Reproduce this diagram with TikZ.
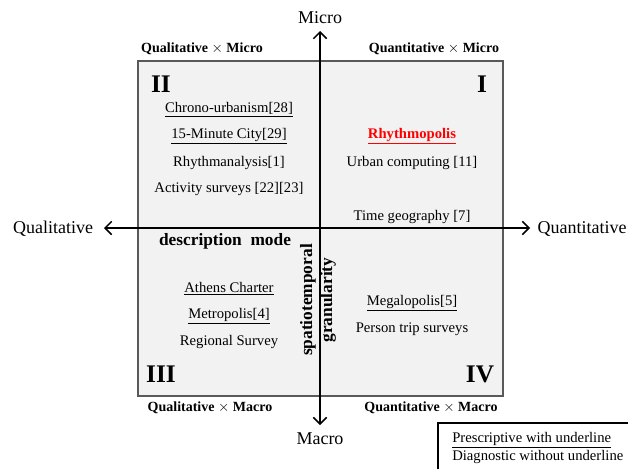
\documentclass[tikz,border=0pt]{standalone}
\usepackage{fontspec}
\setmainfont{Liberation Serif}
\usetikzlibrary{arrows.meta}
\definecolor{boxgray}{HTML}{F2F2F2}
\definecolor{edgegray}{HTML}{595959}

\begin{document}
\begin{tikzpicture}[
        x=0.75pt, y=-0.75pt,
        every node/.style={inner sep=0pt, font=\fontsize{11}{13}\selectfont},
        axis/.style={{Straight Barb[length=5pt,width=10pt]}-{Straight Barb[length=5pt,width=10pt]}, line width=1.1pt},
        corner/.style={font=\fontsize{10.5}{12}\selectfont\bfseries},
        numeral/.style={font=\fontsize{19}{21}\selectfont\bfseries},
        axislabel/.style={font=\fontsize{13.5}{15}\selectfont},
        mode/.style={font=\fontsize{13}{14}\selectfont\bfseries}
    ]
\useasboundingbox (0,0) rectangle (628,468);

% Quadrant box
        \draw[fill=boxgray, draw=edgegray, line width=0.8pt] (138,61) rectangle (503,396);

% Axes
        \coordinate (west) at (104,228);
        \coordinate (east) at (530,228);
        \coordinate (north) at (320,31);
        \coordinate (south) at (320,425);
        \draw[axis] (west) -- (east);
        \draw[axis] (south) -- (north);

% Axis labels
        \node[axislabel] (micro) at (320,18) {Micro};
        \node[axislabel] (macro) at (320,439) {Macro};
        \node[axislabel] (qual) at (53,229) {Qualitative};
        \node[axislabel] (quant) at (582,229) {Quantitative};

% Corner labels
        \node[corner] (qmi) at (202,49) {Qualitative $\times$ Micro};
        \node[corner] (nmi) at (434,49) {Quantitative $\times$ Micro};
        \node[corner] (qma) at (210,408) {Qualitative $\times$ Macro};
        \node[corner] (nma) at (431,408) {Quantitative $\times$ Macro};

% Quadrant numbers
        \node[numeral] (one) at (482,84) {I};
        \node[numeral] (two) at (161,84) {II};
        \node[numeral] (three) at (161,374) {III};
        \node[numeral] (four) at (480,374) {IV};

% Quadrant II
        \node (chrono) at (229,110) {\underline{Chrono-urbanism[28]}};
        \node (minute) at (229,136) {\underline{15-Minute City[29]}};
        \node (rhythm) at (229,163) {Rhythmanalysis[1]};
        \node (activity) at (229,189) {Activity surveys [22][23]};

% Quadrant I
        \node (rhythmopolis) at (412,136) {\textcolor{red}{\underline{\textbf{Rhythmopolis}}}};
        \node (urban) at (412,163) {Urban computing [11]};
        \node (timegeo) at (412,217) {Time geography [7]};

% Quadrant III
        \node (athens) at (229,289) {\underline{Athens Charter}};
        \node (metro) at (229,316) {\underline{Metropolis[4]}};
        \node (regional) at (229,342) {Regional Survey};

% Quadrant IV
        \node (megalo) at (412,303) {\underline{Megalopolis[5]}};
        \node (trip) at (412,329) {Person trip surveys};

% Axis meanings
        \node[mode] (descr) at (225,241) {description\ \ mode};
        \node[mode, rotate=90, align=center] (granul) at (318,300) {spatiotemporal\\[1pt]granularity};

% Legend
        \draw[line width=0.9pt] (438,423) rectangle (640,480);
        \node[anchor=west, align=left] (legend) at (452,448) {\underline{Prescriptive with underline}\\[1pt]Diagnostic without underline};

    \end{tikzpicture}
\end{document}
